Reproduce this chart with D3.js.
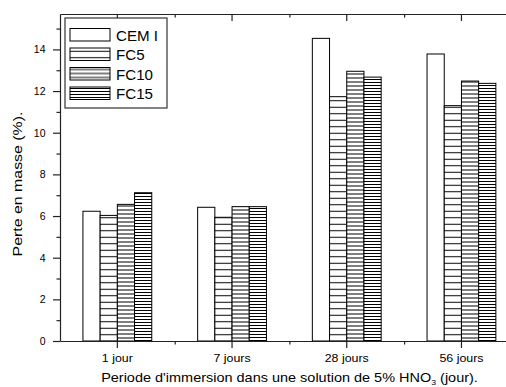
<!DOCTYPE html>
<html>
<head>
<meta charset="utf-8">
<script src="https://cdn.jsdelivr.net/npm/d3@7"></script>
<style>
  html, body { margin: 0; padding: 0; background: #fff; }
  svg { display: block; font-family: "Liberation Sans", Arial, sans-serif; }
</style>
</head>
<body>
<svg id="chart" width="506" height="387"></svg>
<script>
// Mass loss (%) after immersion in 5% HNO3, per mix and immersion period
const categories = ["1 jour", "7 jours", "28 jours", "56 jours"];
const seriesNames = ["CEM I", "FC5", "FC10", "FC15"];
const cemI = [6.23, 6.42, 14.53, 13.78];
const fc5  = [6.03, 5.94, 11.73, 11.30];
const fc10 = [6.56, 6.45, 12.95, 12.48];
const fc15 = [7.12, 6.45, 12.67, 12.37];
const yTicks = [0, 2, 4, 6, 8, 10, 12, 14];
const yMinorTicks = [1, 3, 5, 7, 9, 11, 13, 15];

const seriesValues = [cemI, fc5, fc10, fc15];
// hatch spacing for each series (0 = plain white fill)
const hatchGap = [0, 6.5, 4, 3];

const svg = d3.select("#chart");
const plotLeft = 60, plotTop = 14, plotBottom = 341, plotRight = 518.8;

const x = d3.scaleBand().domain(categories).range([plotLeft, plotRight])
  .paddingInner(0.4).paddingOuter(0.2);
const xs = d3.scaleBand().domain(seriesNames).range([0, x.bandwidth()]);
const y = d3.scaleLinear().domain([0, 15.7]).range([plotBottom, plotTop]);

// widen glyphs horizontally (the figure's text is set slightly wide)
function stretch(sel, f) {
  sel.each(function () {
    const t = d3.select(this);
    const base = t.attr("transform") || "";
    t.attr("transform", base + ` scale(${f},1)`);
  });
}

// Horizontal-line hatch patterns
const defs = svg.append("defs");
seriesNames.forEach((name, i) => {
  if (!hatchGap[i]) return;
  const g = hatchGap[i];
  const p = defs.append("pattern")
    .attr("id", "hatch" + i)
    .attr("patternUnits", "userSpaceOnUse")
    .attr("width", 10).attr("height", g);
  p.append("rect").attr("width", 10).attr("height", g).attr("fill", "#fff");
  p.append("line").attr("x1", 0).attr("x2", 10)
    .attr("y1", g / 2).attr("y2", g / 2)
    .attr("stroke", "#000").attr("stroke-width", 1);
});
const fillFor = i => hatchGap[i] ? `url(#hatch${i})` : "#fff";

// Bars
const groups = svg.append("g").selectAll("g")
  .data(categories).join("g")
  .attr("transform", d => `translate(${x(d)},0)`);
groups.selectAll("rect")
  .data((c, ci) => seriesNames.map((s, si) => ({ s, si, v: seriesValues[si][ci] })))
  .join("rect")
  .attr("x", d => xs(d.s))
  .attr("y", d => y(d.v))
  .attr("width", xs.bandwidth())
  .attr("height", d => y(0) - y(d.v))
  .attr("fill", d => fillFor(d.si))
  .attr("stroke", "#000")
  .attr("stroke-width", 1);

// Axes
const axisColor = "#222";
function styleAxis(g, size) {
  g.selectAll("path.domain").attr("stroke", axisColor).attr("stroke-width", 1.2);
  g.selectAll(".tick line").attr("stroke", axisColor).attr("stroke-width", 1.2);
  g.selectAll(".tick text").attr("fill", "#000").attr("font-size", size || 11)
    .attr("font-family", "Liberation Sans, Arial, sans-serif");
}

const boundaries = d3.range(1, categories.length).map(i => plotLeft + i * x.step());

// left axis
svg.append("g").attr("transform", `translate(${plotLeft},0)`)
  .call(d3.axisLeft(y).tickValues(yMinorTicks).tickSize(3.5).tickFormat(""))
  .call(styleAxis).select("path.domain").remove();
svg.append("g").attr("transform", `translate(${plotLeft},0)`)
  .call(d3.axisLeft(y).tickValues(yTicks).tickSize(7).tickPadding(7.5).tickSizeOuter(0))
  .call(g => styleAxis(g, 10.5));

// bottom axis
const xMinor = d3.scaleLinear().domain([plotLeft, plotRight]).range([plotLeft, plotRight]);
svg.append("g").attr("transform", `translate(0,${plotBottom})`)
  .call(d3.axisBottom(xMinor).tickValues(boundaries).tickSize(3.5).tickFormat(""))
  .call(styleAxis).select("path.domain").remove();
const xAxisG = svg.append("g").attr("transform", `translate(0,${plotBottom})`)
  .call(d3.axisBottom(x).tickSize(7).tickPadding(6).tickSizeOuter(0))
  .call(g => styleAxis(g, 11));
stretch(xAxisG.selectAll(".tick text"), 1.13);

// top axis, ticks pointing inward
svg.append("g").attr("transform", `translate(0,${plotTop})`)
  .call(d3.axisTop(xMinor).tickValues(boundaries).tickSize(-3.5).tickFormat(""))
  .call(styleAxis).select("path.domain").remove();
svg.append("g").attr("transform", `translate(0,${plotTop})`)
  .call(d3.axisTop(x).tickSize(-7).tickFormat("").tickSizeOuter(0))
  .call(styleAxis);

// right axis line
svg.append("line").attr("x1", plotRight).attr("x2", plotRight)
  .attr("y1", plotTop).attr("y2", plotBottom)
  .attr("stroke", axisColor).attr("stroke-width", 1.2);

// Axis titles
const yt = svg.append("text")
  .attr("transform", "translate(21.5,184) rotate(-90)")
  .attr("text-anchor", "middle")
  .attr("font-size", 13.5)
  .text("Perte en masse (%).");
stretch(yt, 145 / yt.node().getComputedTextLength());

const xt = svg.append("text")
  .attr("transform", "translate(289.5,382)")
  .attr("text-anchor", "middle")
  .attr("font-size", 12.5);
xt.append("tspan").text("Periode d'immersion dans une solution de 5% HNO");
xt.append("tspan").attr("font-size", 7.5).attr("dy", 2.5).text("3");
xt.append("tspan").attr("dy", -2.5).text(" (jour).");
stretch(xt, 377 / xt.node().getComputedTextLength());

// Legend
const lg = svg.append("g");
lg.append("rect").attr("x", 65).attr("y", 18).attr("width", 102).attr("height", 90)
  .attr("fill", "#fff").attr("stroke", "#333").attr("stroke-width", 1.2);
const item = lg.selectAll("g.item").data(seriesNames).join("g")
  .attr("class", "item")
  .attr("transform", (d, i) => `translate(70,${28.5 + i * 19.5})`);
item.append("rect").attr("width", 40).attr("height", 12.5)
  .attr("fill", (d, i) => fillFor(i))
  .attr("stroke", "#000").attr("stroke-width", 1);
const legText = item.append("text")
  .attr("transform", "translate(46,12)")
  .attr("font-size", 14)
  .text(d => d);
stretch(legText, 1.08);
</script>
</body>
</html>
